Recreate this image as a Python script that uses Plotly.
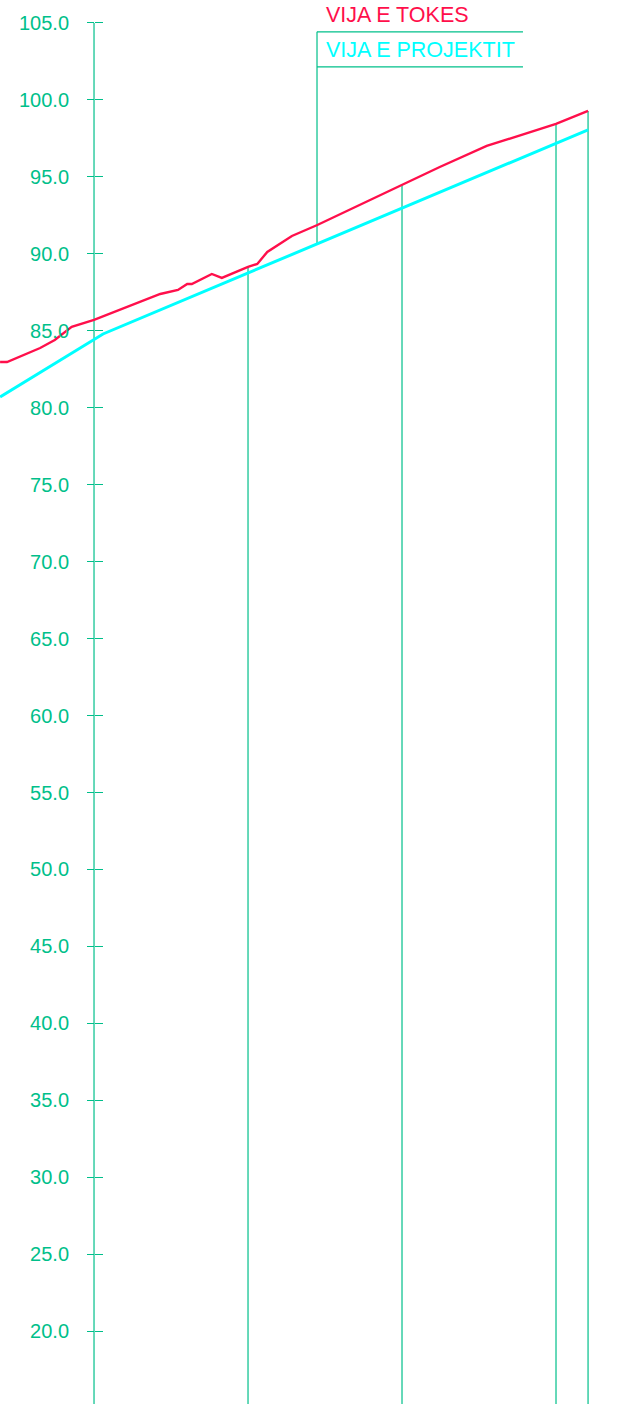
# Profile: terrain line vs design line
import plotly.graph_objects as go

# Data (chainage in m, elevation in m)
terrain_ch = [-12.2, -11.3, -7.0, -5.1, -2.9, 0.0, 8.6, 10.9, 12.1, 12.7, 15.3, 16.6,
              20.0, 21.2, 22.5, 25.7, 29.0, 35.8, 40.0, 44.9, 51.0, 60.0, 64.16]
terrain_z = [82.97, 82.97, 83.88, 84.40, 85.25, 85.70, 87.39, 87.65, 88.04, 88.04, 88.69, 88.43,
             89.15, 89.34, 90.12, 91.16, 91.87, 93.50, 94.47, 95.64, 97.01, 98.44, 99.28]
design_ch = [-12.2, 1.17, 64.16]
design_z = [80.70, 84.79, 98.05]
station_ch = [20.0, 40.0, 60.0, 64.16]
legend_ch = 28.96
labels = ["VIJA E TOKES", "VIJA E PROJEKTIT"]

green = "#00BF8A"
red = "#FF0F4B"
cyan = "#00FFFF"

y_min, y_max = 15.27, 106.49
x_min, x_max = -12.21, 68.31


def interp(ch, xs, ys):
    for i in range(len(xs) - 1):
        if xs[i] <= ch <= xs[i + 1]:
            t = (ch - xs[i]) / (xs[i + 1] - xs[i])
            return ys[i] + t * (ys[i + 1] - ys[i])
    return ys[-1]


fig = go.Figure()

# station lines up to terrain
for ch in station_ch:
    fig.add_trace(go.Scatter(
        x=[ch, ch], y=[y_min, interp(ch, terrain_ch, terrain_z)],
        mode="lines", line=dict(color=green, width=1.2),
        showlegend=False, hoverinfo="skip"
    ))

# axis line at chainage 0
fig.add_trace(go.Scatter(
    x=[0, 0], y=[y_min, 105],
    mode="lines", line=dict(color=green, width=1.2),
    showlegend=False, hoverinfo="skip"
))

# legend box
box_top, box_mid = 104.42, 102.14
box_right = 55.71
fig.add_trace(go.Scatter(
    x=[legend_ch, legend_ch, None, legend_ch, box_right, None, legend_ch, box_right],
    y=[interp(legend_ch, design_ch, design_z), box_top, None, box_top, box_top, None, box_mid, box_mid],
    mode="lines", line=dict(color=green, width=1.2),
    showlegend=False, hoverinfo="skip"
))

fig.add_trace(go.Scatter(
    x=design_ch, y=design_z, mode="lines",
    line=dict(color=cyan, width=3), name=labels[1], showlegend=False
))
fig.add_trace(go.Scatter(
    x=terrain_ch, y=terrain_z, mode="lines",
    line=dict(color=red, width=2.4), name=labels[0], showlegend=False
))

fig.add_annotation(x=legend_ch + 0.9, y=105.52, text=labels[0], showarrow=False,
                   xanchor="left", yanchor="middle", font=dict(color=red, size=21.5))
fig.add_annotation(x=legend_ch + 0.9, y=103.25, text=labels[1], showarrow=False,
                   xanchor="left", yanchor="middle", font=dict(color=cyan, size=21.5))

pos = (0 - x_min) / (x_max - x_min)
fig.update_layout(
    width=620, height=1404,
    margin=dict(l=0, r=0, t=0, b=0),
    plot_bgcolor="white", paper_bgcolor="white",
    font=dict(family="Liberation Sans, Arial, sans-serif", size=20, color=green),
    showlegend=False,
    xaxis=dict(range=[x_min, x_max], visible=False),
    yaxis=dict(range=[y_min, y_max], anchor="free", position=pos,
               tickmode="linear", tick0=20, dtick=5, tickformat=".1f",
               ticks="outside", ticklen=7, tickwidth=1, tickcolor=green,
               showgrid=False, zeroline=False, showline=False,
               ticklabelstandoff=14, tickfont=dict(color=green, size=20)),
    yaxis2=dict(range=[y_min, y_max], overlaying="y", anchor="free", position=pos,
                tickmode="linear", tick0=20, dtick=5, showticklabels=False,
                ticks="inside", ticklen=8, tickwidth=1, tickcolor=green,
                showgrid=False, zeroline=False, showline=False),
)
# dummy trace so yaxis2 is drawn
fig.add_trace(go.Scatter(x=[None], y=[None], yaxis="y2", showlegend=False))

fig.write_html("out.html", config={"displayModeBar": False},
               post_script="document.body.style.margin='0';")
